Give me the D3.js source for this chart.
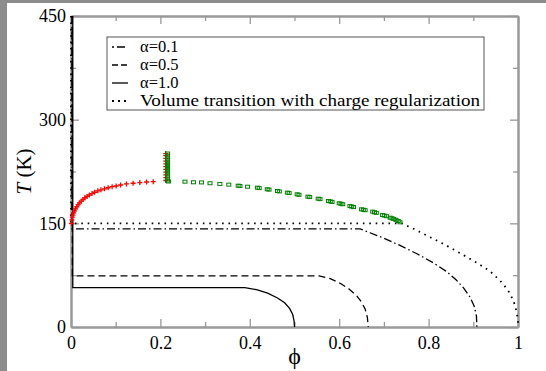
<!DOCTYPE html>
<html>
<head>
<meta charset="utf-8">
<script src="https://cdn.jsdelivr.net/npm/d3@7"></script>
<style>
  body { margin: 0; background: #fff; }
  text { font-family: "Liberation Serif", "DejaVu Serif", serif; }
</style>
</head>
<body>
<div id="chart"></div>
<script>
// phase diagram, T vs phi

// tick labels
const xTicks = [0, 0.2, 0.4, 0.6, 0.8, 1];
const xMinor = [0.1, 0.3, 0.5, 0.7, 0.9];
const yTicks = [0, 150, 300, 450];
const yMinor = [75, 225, 375];

// curves [phi, T]
const regCurve = [[0, 450], [0, 150], [0.74, 150], [0.77, 141], [0.803, 130], [0.837, 119], [0.87, 107], [0.905, 94],
  [0.937, 81], [0.96, 67], [0.977, 54], [0.99, 38], [0.997, 22], [1, 8], [1, 0]];
const alpha01 = [[0.002, 450], [0.002, 142], [0.647, 142], [0.67, 136], [0.698, 129], [0.736, 118], [0.774, 106],
  [0.81, 93], [0.841, 80], [0.862, 68], [0.879, 56], [0.893, 43], [0.902, 30], [0.907, 16], [0.908, 0]];
const alpha05 = [[0.003, 450], [0.003, 74], [0.555, 74], [0.58, 70], [0.603, 63], [0.622, 55], [0.638, 46], [0.65, 36],
  [0.658, 26], [0.663, 14], [0.665, 0]];
const alpha10 = [[0.004, 450], [0.004, 57], [0.389, 57], [0.415, 54], [0.44, 49], [0.462, 42], [0.478, 35],
  [0.489, 27], [0.496, 18], [0.499, 9], [0.5, 0]];

// simulation points
const redPts = [[0.001, 150], [0.002, 155], [0.003, 159], [0.004, 162], [0.006, 165], [0.008, 168], [0.010, 171],
  [0.013, 174], [0.016, 177], [0.019, 179.5], [0.023, 182], [0.027, 184.5], [0.031, 187], [0.036, 189],
  [0.041, 191], [0.047, 193], [0.053, 195], [0.060, 197], [0.067, 198.5], [0.075, 200], [0.083, 201.5],
  [0.092, 203], [0.101, 204], [0.111, 205.5], [0.124, 207], [0.139, 208], [0.154, 209], [0.169, 209.8], [0.184, 210.3],
  [0.212, 212], [0.212, 216], [0.212, 220], [0.212, 224], [0.212, 228], [0.212, 232], [0.212, 236],
  [0.212, 240], [0.212, 244], [0.212, 248], [0.212, 251]];
const greenPts = [[0.216, 212], [0.216, 215], [0.216, 218], [0.216, 221], [0.216, 224], [0.216, 227], [0.216, 230],
  [0.216, 233], [0.216, 236], [0.216, 239], [0.216, 242], [0.216, 245], [0.216, 248], [0.216, 251],
  [0.218, 210.5], [0.255, 210.3], [0.274, 209.4], [0.292, 209.2], [0.311, 208], [0.333, 207], [0.353, 206],
  [0.374, 204.5], [0.378, 204], [0.395, 203], [0.417, 201.6], [0.421, 201], [0.439, 199.3], [0.443, 198.8],
  [0.462, 196.8], [0.466, 196.2], [0.484, 194.4], [0.488, 193.8], [0.506, 192], [0.510, 191.3],
  [0.530, 188.6], [0.534, 188], [0.553, 185.7], [0.557, 185], [0.576, 182.3], [0.580, 181.7], [0.584, 181],
  [0.600, 179], [0.604, 178.3], [0.608, 177.6], [0.624, 175], [0.628, 174.3], [0.632, 173.5],
  [0.650, 170.3], [0.654, 169.6], [0.658, 169], [0.675, 166.9], [0.679, 166], [0.683, 165.2],
  [0.697, 162], [0.701, 161.2], [0.706, 160.3], [0.714, 158.2], [0.718, 157.3], [0.722, 156.4],
  [0.727, 155], [0.732, 153.4], [0.736, 151.5]];

const legendItems = [
  {label: "α=0.1", sym: "dashdot"},
  {label: "α=0.5", sym: "dash"},
  {label: "α=1.0", sym: "solid"},
  {label: "Volume transition with charge regularization", sym: "dot"}
];

const width = 546, height = 371;
const svg = d3.select('#chart').append('svg')
  .attr('width', width)
  .attr('height', height);

// screenshot border
svg.append('rect').attr('x', 0).attr('y', 0).attr('width', 7).attr('height', height).attr('fill', '#8c8c8c');
svg.append('rect').attr('x', 0).attr('y', 0).attr('width', width).attr('height', 3).attr('fill', '#8c8c8c');

const x = d3.scaleLinear().domain([0, 1]).range([71, 518]);
const y = d3.scaleLinear().domain([0, 450]).range([327, 16]);

const frameColor = '#999';

// axes, ticks pointing inward
function styleAxis(g) {
  g.attr('font-family', null);
  g.select('.domain').attr('stroke', frameColor).attr('stroke-width', 2);
  g.selectAll('.tick line').attr('stroke', frameColor).attr('stroke-width', 1.3);
  g.selectAll('.tick text').attr('fill', '#000').style('font-size', '18px');
}

svg.append('g').attr('transform', `translate(0,${y(0)})`)
  .call(d3.axisBottom(x).tickValues(xTicks).tickSizeInner(-8).tickSizeOuter(0).tickPadding(9)
    .tickFormat(d3.format('~g')))
  .call(styleAxis);
svg.append('g').attr('transform', `translate(0,${y(0)})`)
  .call(d3.axisBottom(x).tickValues(xMinor).tickSizeInner(-5).tickSizeOuter(0).tickFormat(''))
  .call(styleAxis);
svg.append('g').attr('transform', `translate(0,${y(450)})`)
  .call(d3.axisTop(x).tickValues(xTicks).tickSizeInner(-8).tickSizeOuter(0).tickFormat(''))
  .call(styleAxis);
svg.append('g').attr('transform', `translate(0,${y(450)})`)
  .call(d3.axisTop(x).tickValues(xMinor).tickSizeInner(-5).tickSizeOuter(0).tickFormat(''))
  .call(styleAxis);
svg.append('g').attr('transform', `translate(${x(0)},0)`)
  .call(d3.axisLeft(y).tickValues(yTicks).tickSizeInner(-8).tickSizeOuter(0).tickPadding(5))
  .call(styleAxis);
svg.append('g').attr('transform', `translate(${x(0)},0)`)
  .call(d3.axisLeft(y).tickValues(yMinor).tickSizeInner(-5).tickSizeOuter(0).tickFormat(''))
  .call(styleAxis);
svg.append('g').attr('transform', `translate(${x(1)},0)`)
  .call(d3.axisRight(y).tickValues(yTicks).tickSizeInner(-8).tickSizeOuter(0).tickFormat(''))
  .call(styleAxis);
svg.append('g').attr('transform', `translate(${x(1)},0)`)
  .call(d3.axisRight(y).tickValues(yMinor).tickSizeInner(-5).tickSizeOuter(0).tickFormat(''))
  .call(styleAxis);

// curves
const line = d3.line().x(d => x(d[0])).y(d => y(d[1]));
const curves = [
  {data: regCurve, dash: '1.6,4.8', w: 1.8},
  {data: alpha01, dash: '8,3,1.5,3', w: 1.3},
  {data: alpha05, dash: '7,4', w: 1.3},
  {data: alpha10, dash: null, w: 1.3}
];
svg.selectAll('path.curve')
  .data(curves)
  .enter().append('path')
    .attr('class', 'curve')
    .attr('d', d => line(d.data))
    .attr('fill', 'none')
    .attr('stroke', '#000')
    .attr('stroke-width', d => d.w)
    .attr('stroke-dasharray', d => d.dash);

// red plus markers
svg.selectAll('path.red')
  .data(redPts)
  .enter().append('path')
    .attr('class', 'red')
    .attr('d', d => {
      const cx = x(d[0]), cy = y(d[1]);
      return `M${cx - 2.5},${cy}H${cx + 2.5}M${cx},${cy - 2.5}V${cy + 2.5}`;
    })
    .attr('stroke', '#ff0000')
    .attr('stroke-width', 1.3);

// green square markers
svg.selectAll('rect.green')
  .data(greenPts)
  .enter().append('rect')
    .attr('class', 'green')
    .attr('x', d => x(d[0]) - 2)
    .attr('y', d => y(d[1]) - 1.5)
    .attr('width', 4)
    .attr('height', 3)
    .attr('fill', 'none')
    .attr('stroke', '#008000')
    .attr('stroke-width', 1);

// legend
const lg = svg.append('g');
lg.append('rect')
  .attr('x', 107).attr('y', 37).attr('width', 377).attr('height', 73)
  .attr('fill', '#fff').attr('stroke', '#555').attr('stroke-width', 1);
const rows = lg.selectAll('g.row')
  .data(legendItems)
  .enter().append('g')
    .attr('class', 'row')
    .attr('transform', (d, i) => `translate(0,${47 + i * 18})`);
rows.append('line')
  .attr('x1', 112).attr('x2', 128).attr('y1', 0).attr('y2', 0)
  .attr('stroke', '#000')
  .attr('stroke-width', d => d.sym === 'dot' ? 2 : 1.3)
  .attr('stroke-dasharray', d => d.sym === 'dashdot' ? '2,3,8,3' : d.sym === 'dash' ? '6,3' : d.sym === 'dot' ? '2,4' : null);
rows.append('text')
  .attr('x', 140).attr('y', 5)
  .attr('textLength', d => d.sym === 'dot' ? 340 : null)
  .attr('lengthAdjust', 'spacingAndGlyphs')
  .style('font-size', '16.5px')
  .text(d => d.label);

// axis titles
svg.append('text')
  .attr('transform', `translate(31,${y(225)}) rotate(-90)`)
  .attr('text-anchor', 'middle')
  .style('font-size', '21px')
  .html('<tspan font-style="italic">T</tspan> (K)');
svg.append('text')
  .attr('x', x(0.5)).attr('y', 364)
  .attr('text-anchor', 'middle')
  .style('font-size', '24px')
  .text('ϕ');
</script>
</body>
</html>
